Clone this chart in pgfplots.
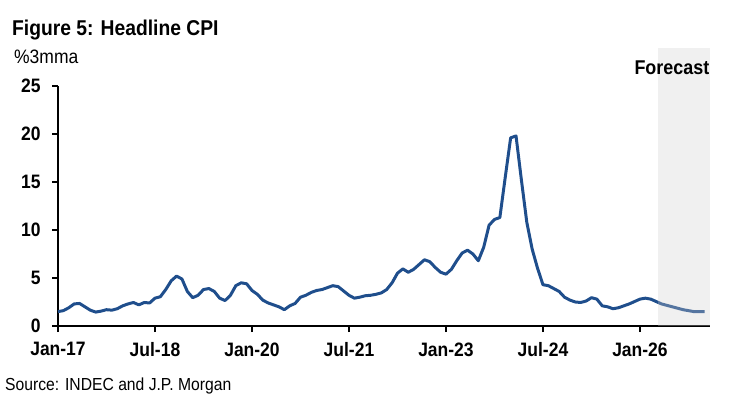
\documentclass[border=0pt]{standalone}
\usepackage{pgfplots}
\pgfplotsset{compat=1.18}
\usepackage{fontspec}
\setmainfont{Liberation Sans}[FakeStretch=0.9]
\definecolor{cpiblue}{HTML}{1F4E8C}
\definecolor{fcgrey}{RGB}{207,207,207}

% %3mma headline CPI, months since Jan-17
\pgfplotstableread{
m v
0 1.5
1 1.6
2 1.9
3 2.3
4 2.35
5 2.0
6 1.65
7 1.45
8 1.55
9 1.7
10 1.65
11 1.8
12 2.1
13 2.3
14 2.45
15 2.2
16 2.45
17 2.4
18 2.9
19 3.05
20 3.8
21 4.7
22 5.2
23 4.9
24 3.6
25 2.95
26 3.2
27 3.8
28 3.9
29 3.6
30 2.9
31 2.65
32 3.2
33 4.2
34 4.5
35 4.4
36 3.7
37 3.3
38 2.7
39 2.4
40 2.2
41 2.0
42 1.7
43 2.1
44 2.35
45 3.0
46 3.2
47 3.5
48 3.7
49 3.8
50 4.0
51 4.2
52 4.1
53 3.65
54 3.2
55 2.9
56 3.0
57 3.15
58 3.2
59 3.3
60 3.45
61 3.8
62 4.5
63 5.5
64 5.95
65 5.6
66 5.9
67 6.4
68 6.9
69 6.7
70 6.1
71 5.6
72 5.4
73 5.9
74 6.8
75 7.6
76 7.9
77 7.5
78 6.8
79 8.2
80 10.5
81 11.1
82 11.3
83 15.5
84 19.6
85 19.8
86 15.2
87 10.8
88 8.0
89 6.0
90 4.3
91 4.2
92 3.9
93 3.6
94 3.0
95 2.7
96 2.5
97 2.45
98 2.6
99 2.95
100 2.8
101 2.1
102 2.0
103 1.8
104 1.9
105 2.1
106 2.3
107 2.55
108 2.8
109 2.9
110 2.8
111 2.55
112 2.3
113 2.15
114 2.0
115 1.85
116 1.7
117 1.6
118 1.5
119 1.5
120 1.5
}\cpi

\begin{document}
\begin{tikzpicture}[x=1bp,y=1bp]
\path (0,0) rectangle (730,417);
\begin{axis}[
    at={(58bp,91bp)}, anchor=south west,
    scale only axis,
    width=652bp, height=240bp,
    xmin=0, xmax=121, ymin=0, ymax=25,
    axis x line*=bottom, axis y line*=left,
    axis line style={line width=1.6pt},
    every tick/.style={line width=1.4pt, black},
    tick align=outside,
    major tick length=6bp,
    xtick={0,18,36,54,72,90,108},
    xticklabels={Jan-17,Jul-18,Jan-20,Jul-21,Jan-23,Jul-24,Jan-26},
    ytick={0,5,10,15,20,25},
    ticklabel style={font=\fontsize{19.5}{19.5}\selectfont\bfseries},
    xticklabel style={yshift=-7bp},
    yticklabel style={xshift=-8bp},
    /pgf/number format/assume math mode=true,
    clip=false,
]
\addplot[cpiblue, line width=3pt, line join=round] table[x=m, y=v] {\cpi};
\fill[fcgrey, opacity=0.31] (axis cs:111.3,0) rectangle (axis cs:121,28.96);
\node[anchor=base east, inner sep=0pt, font=\fontsize{20}{20}\selectfont\bfseries] at (axis cs:120.9,26.15) {Forecast};
\end{axis}
\node[anchor=base west, inner sep=0pt, font=\fontsize{21.5}{21.5}\selectfont\bfseries] at (12,382) {Figure 5: Headline CPI};
\node[anchor=base west, font=\fontsize{19.5}{19.5}\selectfont, inner sep=0pt] at (14,354) {\%3mma};
\node[anchor=base west, font=\fontsize{17.5}{17.5}\selectfont, inner sep=0pt] at (5,27) {Source: INDEC and J.P. Morgan};
\end{tikzpicture}
\end{document}
